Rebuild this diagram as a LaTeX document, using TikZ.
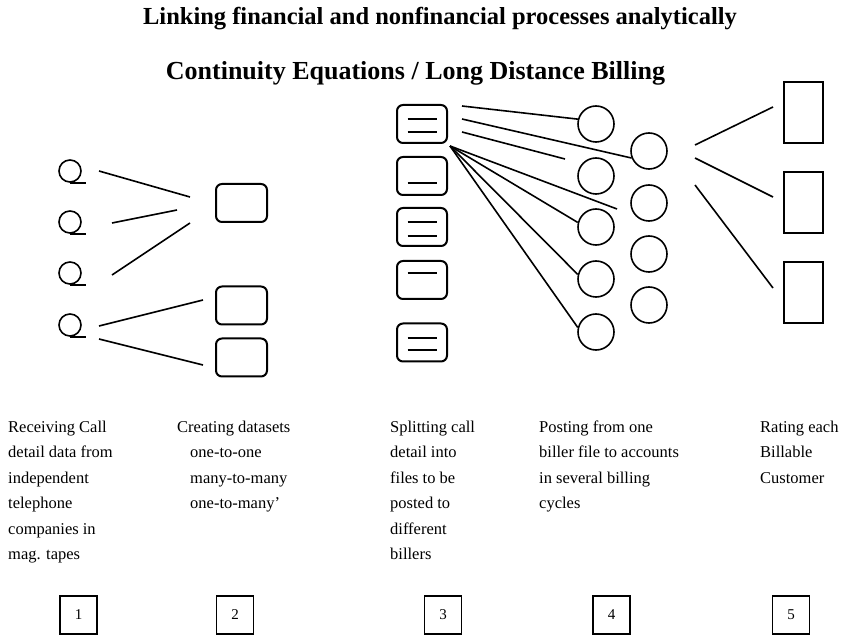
\documentclass[tikz,border=0pt]{standalone}
\usepackage{fontspec}
\setmainfont{Liberation Serif}

\begin{document}
\begin{tikzpicture}[x=1pt,y=-1pt,
    lien/.style={line width=1.6pt},
    bande/.style={circle, draw, line width=1.6pt, inner sep=0pt, minimum size=22pt},
    jeu/.style={rectangle, rounded corners=6pt, draw, line width=2pt, inner sep=0pt, minimum width=51pt, minimum height=38pt},
    fichier/.style={rectangle, rounded corners=6pt, draw, line width=2pt, inner sep=0pt, minimum width=50pt, minimum height=38pt},
    compte/.style={circle, draw, line width=1.6pt, inner sep=0pt, minimum size=36pt},
    client/.style={rectangle, draw, line width=2.2pt, inner sep=0pt, minimum width=39pt, minimum height=61pt},
    numero/.style={rectangle, draw, line width=1.8pt, inner sep=0pt, minimum width=37pt, minimum height=38pt, font=\fontsize{15}{15}\selectfont},
    legende/.style={anchor=base west, inner sep=0pt, font=\fontsize{16.5}{20}\selectfont}]
    \useasboundingbox (0,0) rectangle (844,636);

    % Titres
    \node[anchor=base, font=\bfseries\fontsize{24.5}{28}\selectfont] (titre) at (440,25) {Linking financial and nonfinancial processes analytically};
    \node[anchor=base, font=\bfseries\fontsize{26}{30}\selectfont] (soustitre) at (415.5,80) {Continuity Equations / Long Distance Billing};

    % 1. Bandes magnetiques
    \foreach \y [count=\i] in {171,222,273,325} {
        \node[bande] (q\i) at (70,\y) {};
        \draw[lien] (q\i.south) -- ++(16,0);
    }

    % 2. Jeux de donnees
    \node[jeu] (d1) at (241.5,203) {};
    \node[jeu] (d2) at (241.5,305.5) {};
    \node[jeu] (d3) at (241.5,357.5) {};
    \foreach \xa/\ya/\xb/\yb [count=\i] in {99/171/190/197, 112/223/177/210, 112/275/190/223, 99/326/203/300, 99/339/203/365} {
        \coordinate (u\i a) at (\xa,\ya);
        \coordinate (u\i b) at (\xb,\yb);
        \draw[lien] (u\i a) -- (u\i b);
    }

    % 3. Fichiers
    \foreach \y [count=\i] in {124,176,227,280,342.5}
        \node[fichier] (f\i) at (422,\y) {};
    \draw[lien] (f1.center) ++(-14.5,-5) -- ++(29,0);
    \draw[lien] (f1.center) ++(-14.5,8) -- ++(29,0);
    \draw[lien] (f2.center) ++(-14.5,7) -- ++(29,0);
    \draw[lien] (f3.center) ++(-14.5,-5) -- ++(29,0);
    \draw[lien] (f3.center) ++(-14.5,9) -- ++(29,0);
    \draw[lien] (f4.center) ++(-14.5,-7) -- ++(29,0);
    \draw[lien] (f5.center) ++(-14.5,-4.5) -- ++(29,0);
    \draw[lien] (f5.center) ++(-14.5,7.5) -- ++(29,0);

    % 4. Comptes
    \foreach \y [count=\i] in {124,176,227,279,332}
        \node[compte] (a\i) at (596,\y) {};
    \foreach \y [count=\i] in {151,203,254,305}
        \node[compte] (b\i) at (649,\y) {};
    \coordinate (s1) at (462,106);
    \coordinate (s2) at (462,119);
    \coordinate (s3) at (462,132);
    \coordinate (eclat) at (450,146);
    \coordinate (t3) at (565,159);
    \coordinate (t4) at (617,209);
    \draw[lien] (s1) -- (a1.165);
    \draw[lien] (s2) -- (b1.202);
    \draw[lien] (s3) -- (t3);
    \draw[lien] (eclat) -- (t4);
    \foreach \k in {3,4,5}
        \draw[lien] (eclat) -- (a\k.166);

    % 5. Clients
    \foreach \y [count=\i] in {112.5,202.5,292.5}
        \node[client] (r\i) at (803.5,\y) {};
    \foreach \xa/\ya/\xb/\yb [count=\i] in {695/145/773/107, 695/158/773/197, 695/185/773/288} {
        \coordinate (v\i a) at (\xa,\ya);
        \coordinate (v\i b) at (\xb,\yb);
        \draw[lien] (v\i a) -- (v\i b);
    }

    % Legendes
    \foreach \ligne [count=\i] in {Receiving Call,detail data from,independent,telephone,companies in,mag. tapes}
        \node[legende] (g1\i) at (8,{432+25.5*(\i-1)}) {\ligne};
    \node[legende] (g21) at (177,432) {Creating datasets};
    \foreach \ligne [count=\i from 2] in {one-to-one,many-to-many,one-to-many’}
        \node[legende] (g2\i) at (190,{432+25.5*(\i-1)}) {\ligne};
    \foreach \ligne [count=\i] in {Splitting call,detail into,files to be,posted to,different,billers}
        \node[legende] (g3\i) at (390,{432+25.5*(\i-1)}) {\ligne};
    \foreach \ligne [count=\i] in {Posting from one,biller file to accounts,in several billing,cycles}
        \node[legende] (g4\i) at (539,{432+25.5*(\i-1)}) {\ligne};
    \foreach \ligne [count=\i] in {Rating each,Billable,Customer}
        \node[legende] (g5\i) at (760,{432+25.5*(\i-1)}) {\ligne};

    % Numeros
    \foreach \x [count=\i] in {78.5,235,443,611.5,791}
        \node[numero] (n\i) at (\x,615) {\i};
\end{tikzpicture}
\end{document}
